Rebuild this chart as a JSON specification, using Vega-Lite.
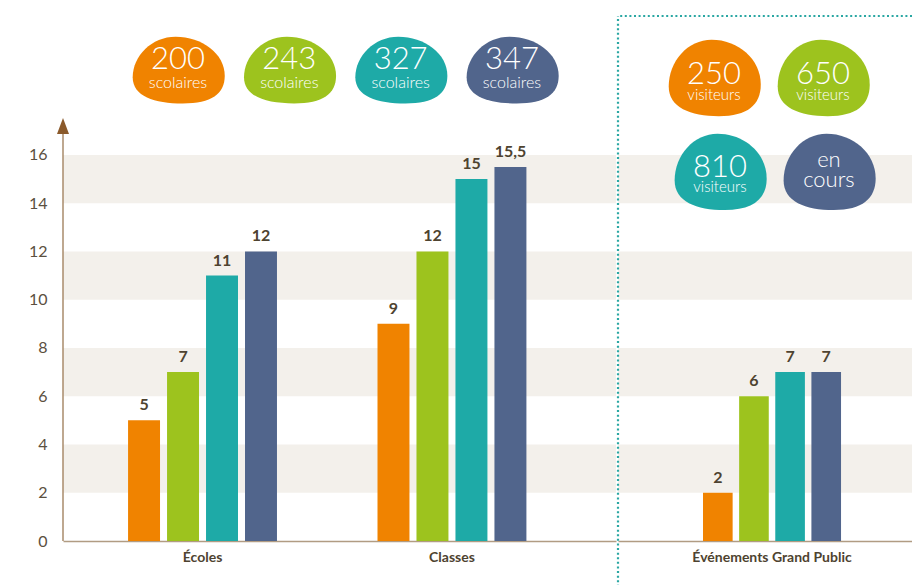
{
  "$schema": "https://vega.github.io/schema/vega-lite/v6.json",
  "padding": {"left": 28, "top": 14, "right": 0, "bottom": 0},
  "background": "white",
  "config": {
    "view": {"stroke": null},
    "font": "Lato",
    "locale": {"number": {"decimal": ",", "thousands": " ", "grouping": [3], "currency": ["", " €"]}}
  },
  "datasets": {
    "bands": [{"lo": 2, "hi": 4}, {"lo": 6, "hi": 8}, {"lo": 10, "hi": 12}, {"lo": 14, "hi": 16}],
    "bars": [
      {"group": "Écoles", "series": "Année 1", "value": 5},
      {"group": "Écoles", "series": "Année 2", "value": 7},
      {"group": "Écoles", "series": "Année 3", "value": 11},
      {"group": "Écoles", "series": "Année 4", "value": 12},
      {"group": "Classes", "series": "Année 1", "value": 9},
      {"group": "Classes", "series": "Année 2", "value": 12},
      {"group": "Classes", "series": "Année 3", "value": 15},
      {"group": "Classes", "series": "Année 4", "value": 15.5},
      {"group": "Événements Grand Public", "series": "Année 1", "value": 2},
      {"group": "Événements Grand Public", "series": "Année 2", "value": 6},
      {"group": "Événements Grand Public", "series": "Année 3", "value": 7},
      {"group": "Événements Grand Public", "series": "Année 4", "value": 7}
    ],
    "blobsL": [
      {"id": "b1", "num": "200", "sub": "scolaires", "series": "Année 1"},
      {"id": "b2", "num": "243", "sub": "scolaires", "series": "Année 2"},
      {"id": "b3", "num": "327", "sub": "scolaires", "series": "Année 3"},
      {"id": "b4", "num": "347", "sub": "scolaires", "series": "Année 4"}
    ],
    "blobsR1": [
      {"id": "r1", "num": "250", "sub": "visiteurs", "series": "Année 1"},
      {"id": "r2", "num": "650", "sub": "visiteurs", "series": "Année 2"}
    ],
    "blobsR2": [
      {"id": "r3", "num": "810", "sub": "visiteurs", "series": "Année 3"},
      {"id": "r4", "num": "en cours", "sub": "", "series": "Année 4"}
    ]
  },
  "spacing": 0,
  "resolve": {"scale": {"x": "independent", "xOffset": "independent", "y": "independent", "color": "shared"}, "axis": {"y": "independent", "x": "independent"}},
  "hconcat": [
    {
      "width": 553,
      "height": 525,
      "encoding": {
        "y": {"type": "quantitative", "scale": {"domain": [0, 21.76], "nice": false, "zero": true},
          "axis": {"title": null, "values": [0, 2, 4, 6, 8, 10, 12, 14, 16], "ticks": false, "domain": false, "grid": false, "labelFont": "Lato", "labelFontSize": 16, "labelColor": "#5b5040", "labelPadding": 16}}
      },
      "layer": [
        {
          "data": {"name": "bands"},
          "mark": {"type": "rect", "color": "#f3f0eb"},
          "encoding": {
            "y": {"field": "lo", "type": "quantitative"},
            "y2": {"field": "hi"}
          }
        },
        {
          "data": {"name": "bars"},
          "transform": [{"filter": "datum.group !== 'Événements Grand Public'"}],
          "encoding": {
            "x": {"field": "group", "type": "nominal", "sort": ["Écoles", "Classes"],
              "scale": {"paddingInner": 0.403, "paddingOuter": 0.31, "align": 0.4207},
              "axis": {"title": null, "ticks": false, "labelAngle": 0, "labelFont": "Lato", "labelFontSize": 14, "labelFontWeight": "bold", "labelColor": "#4e4330", "labelPadding": 9, "domainColor": "#b19c83", "domainWidth": 1.5}},
            "xOffset": {"field": "series", "type": "nominal", "scale": {"paddingInner": 0.18, "paddingOuter": 0}},
            "y": {"field": "value", "type": "quantitative"},
            "color": {"field": "series", "type": "nominal", "scale": {"domain": ["Année 1", "Année 2", "Année 3", "Année 4"], "range": ["#f08300", "#9dc31e", "#1eaaa7", "#51658c"]}, "legend": null}
          },
          "layer": [
            {"mark": {"type": "bar"}},
            {"mark": {"type": "text", "baseline": "alphabetic", "dy": -10, "fontSize": 16, "fontWeight": "bold", "color": "#4e4330"},
              "encoding": {"text": {"field": "value", "type": "quantitative", "format": ".1~f"}, "color": {"value": "#4e4330"}}}
          ]
        },
        {
          "data": {"values": [{}]},
          "mark": {"type": "rule", "color": "#a88b6b", "strokeWidth": 1.5},
          "encoding": {
            "x": {"datum": 0, "type": "quantitative", "scale": {"domain": [0, 1]}, "axis": null},
            "y": {"datum": 0, "type": "quantitative"},
            "y2": {"datum": 17}
          }
        },
        {
          "data": {"values": [{}]},
          "mark": {"type": "point", "shape": "M 0 -1 L 0.75 1 L -0.75 1 Z", "filled": true, "color": "#8b5a2b", "size": 256, "opacity": 1},
          "encoding": {
            "x": {"datum": 0, "type": "quantitative", "scale": {"domain": [0, 1]}, "axis": null},
            "y": {"datum": 17.2, "type": "quantitative"}
          }
        },
        {
          "data": {"name": "blobsL"},
          "encoding": {
            "x": {"field": "id", "type": "nominal", "sort": null, "scale": {"type": "point", "padding": 0.984, "align": 0.525}, "axis": null},
            "y": {"datum": 19.52, "type": "quantitative"}
          },
          "layer": [
            {"mark": {"type": "point", "shape": "M -0.95 0.15 C -0.95 -0.3 -0.55 -0.7 -0.05 -0.7 C 0.5 -0.7 0.98 -0.35 0.98 0.12 C 0.98 0.5 0.7 0.7 0.1 0.7 C -0.5 0.7 -0.95 0.55 -0.95 0.15 Z", "filled": true, "size": 9100, "opacity": 1},
              "encoding": {"color": {"field": "series", "type": "nominal", "legend": null}}},
            {"mark": {"type": "text", "baseline": "alphabetic", "dy": -1, "fontSize": 31, "fontWeight": 300, "color": "white"},
              "encoding": {"text": {"field": "num"}}},
            {"mark": {"type": "text", "baseline": "alphabetic", "dy": 18, "fontSize": 16, "fontWeight": 300, "color": "white"},
              "encoding": {"text": {"field": "sub"}}}
          ]
        }
      ],
      "resolve": {"scale": {"x": "independent"}}
    },
    {
      "width": 294,
      "height": 525,
      "encoding": {
        "y": {"type": "quantitative", "scale": {"domain": [0, 21.76], "nice": false, "zero": true}, "axis": null}
      },
      "layer": [
        {
          "data": {"name": "bands"},
          "mark": {"type": "rect", "color": "#f3f0eb"},
          "encoding": {
            "y": {"field": "lo", "type": "quantitative"},
            "y2": {"field": "hi"}
          }
        },
        {
          "data": {"name": "bars"},
          "transform": [{"filter": "datum.group === 'Événements Grand Public'"}],
          "encoding": {
            "x": {"field": "group", "type": "nominal",
              "scale": {"paddingInner": 0, "paddingOuter": 0.565, "align": 0.545},
              "axis": {"title": null, "ticks": false, "labelAngle": 0, "labelFont": "Lato", "labelFontSize": 14, "labelFontWeight": "bold", "labelColor": "#4e4330", "labelPadding": 9, "domainColor": "#b19c83", "domainWidth": 1.5}},
            "xOffset": {"field": "series", "type": "nominal", "scale": {"paddingInner": 0.18, "paddingOuter": 0}},
            "y": {"field": "value", "type": "quantitative"},
            "color": {"field": "series", "type": "nominal", "scale": {"domain": ["Année 1", "Année 2", "Année 3", "Année 4"], "range": ["#f08300", "#9dc31e", "#1eaaa7", "#51658c"]}, "legend": null}
          },
          "layer": [
            {"mark": {"type": "bar"}},
            {"mark": {"type": "text", "baseline": "alphabetic", "dy": -10, "fontSize": 16, "fontWeight": "bold", "color": "#4e4330"},
              "encoding": {"text": {"field": "value", "type": "quantitative", "format": ".1~f"}, "color": {"value": "#4e4330"}}}
          ]
        },
        {
          "data": {"values": [{}]},
          "mark": {"type": "rule", "color": "#2aa7a3", "strokeWidth": 2.2, "strokeDash": [2, 2.6]},
          "encoding": {"y": {"datum": 21.76, "type": "quantitative"}}
        },
        {
          "data": {"values": [{}]},
          "mark": {"type": "rule", "color": "#2aa7a3", "strokeWidth": 2.2, "strokeDash": [2, 2.6]},
          "encoding": {
            "x": {"datum": 0, "type": "quantitative", "scale": {"domain": [0, 1]}, "axis": null},
            "y": {"datum": -1.9, "type": "quantitative"},
            "y2": {"datum": 21.76}
          }
        },
        {
          "data": {"name": "blobsR1"},
          "encoding": {
            "x": {"field": "id", "type": "nominal", "sort": null, "scale": {"type": "point", "padding": 0.849, "align": 0.519}, "axis": null},
            "y": {"datum": 19.19, "type": "quantitative"}
          },
          "layer": [
            {"mark": {"type": "point", "shape": "M -0.95 0.18 C -0.95 -0.35 -0.55 -0.8 -0.05 -0.8 C 0.5 -0.8 0.98 -0.4 0.98 0.14 C 0.98 0.56 0.7 0.8 0.1 0.8 C -0.5 0.8 -0.95 0.62 -0.95 0.18 Z", "filled": true, "size": 9100, "opacity": 1},
              "encoding": {"color": {"field": "series", "type": "nominal", "legend": null}}},
            {"mark": {"type": "text", "baseline": "alphabetic", "dy": 6, "fontSize": 31, "fontWeight": 300, "color": "white"},
              "encoding": {"text": {"field": "num"}}},
            {"mark": {"type": "text", "baseline": "alphabetic", "dy": 22, "fontSize": 15, "fontWeight": 300, "color": "white"},
              "encoding": {"text": {"field": "sub"}}}
          ]
        },
        {
          "data": {"name": "blobsR2"},
          "encoding": {
            "x": {"field": "id", "type": "nominal", "sort": null, "scale": {"type": "point", "padding": 0.849, "align": 0.551, "domain": ["r3", "r4"]}, "axis": null},
            "y": {"datum": 15.3, "type": "quantitative"}
          },
          "layer": [
            {"mark": {"type": "point", "shape": "M -0.95 0.18 C -0.95 -0.35 -0.55 -0.8 -0.05 -0.8 C 0.5 -0.8 0.98 -0.4 0.98 0.14 C 0.98 0.56 0.7 0.8 0.1 0.8 C -0.5 0.8 -0.95 0.62 -0.95 0.18 Z", "filled": true, "size": 9100, "opacity": 1},
              "encoding": {"color": {"field": "series", "type": "nominal", "legend": null}}},
            {"transform": [{"filter": "datum.sub !== ''"}],
              "mark": {"type": "text", "baseline": "alphabetic", "dy": 5, "fontSize": 31, "fontWeight": 300, "color": "white"},
              "encoding": {"text": {"field": "num"}}},
            {"transform": [{"filter": "datum.sub !== ''"}],
              "mark": {"type": "text", "baseline": "alphabetic", "dy": 20, "fontSize": 15, "fontWeight": 300, "color": "white"},
              "encoding": {"text": {"field": "sub"}}},
            {"transform": [{"filter": "datum.sub === ''"}],
              "mark": {"type": "text", "baseline": "alphabetic", "dy": -5, "fontSize": 22, "fontWeight": 300, "color": "white", "lineBreak": " ", "lineHeight": 20},
              "encoding": {"text": {"field": "num"}}}
          ]
        }
      ],
      "resolve": {"scale": {"x": "independent"}}
    }
  ]
}
